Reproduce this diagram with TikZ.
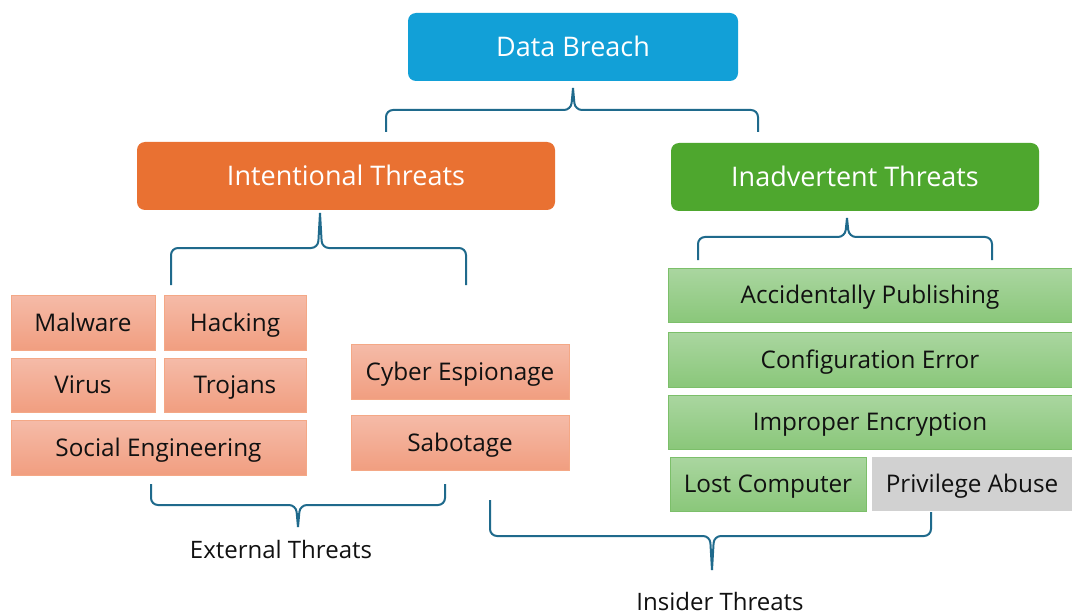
\documentclass[tikz,border=0pt]{standalone}
\usepackage{fontspec}
\setmainfont{Open Sans}
\definecolor{dbblue}{HTML}{12A0D7}
\definecolor{intor}{HTML}{E97132}
\definecolor{inagr}{HTML}{4EA72E}
\definecolor{saltop}{HTML}{F5BBA8}
\definecolor{salbot}{HTML}{F19E80}
\definecolor{salbd}{HTML}{F4A886}
\definecolor{grtop}{HTML}{AAD6A0}
\definecolor{grbot}{HTML}{8AC77A}
\definecolor{grbd}{HTML}{7CBF6A}
\definecolor{graybox}{HTML}{D1D1D1}
\definecolor{brcol}{HTML}{1F6A8C}
\definecolor{txt}{HTML}{111111}
\tikzset{
  head/.style={rounded corners=8pt, text=white, font=\fontsize{27}{30}\selectfont, inner sep=0pt, text height=20pt, text depth=1pt},
  bx/.style={text=txt, font=\fontsize{24.3}{27}\selectfont, inner sep=0pt, text height=20pt, text depth=2.6pt},
  salbox/.style={bx, draw=salbd, line width=1pt, top color=saltop, bottom color=salbot},
  grbox/.style={bx, draw=grbd, line width=1pt, top color=grtop, bottom color=grbot},
  gybox/.style={bx, fill=graybox},
  brc/.style={draw=brcol, line width=2pt, rounded corners=7pt},
  lbl/.style={text=txt, font=\fontsize{24}{27}\selectfont, inner sep=0pt, text height=20pt, text depth=2.6pt}
}
\begin{document}
\begin{tikzpicture}[x=1pt,y=-1pt]
\useasboundingbox[fill=white] (0,0) rectangle (1072,615);
% headers
\node[head, fill=dbblue, minimum width=330pt, minimum height=68pt] (db) at (573,47) {Data Breach};
\node[head, fill=intor, minimum width=418pt, minimum height=68pt] (it) at (346,176) {Intentional Threats};
\node[head, fill=inagr, minimum width=368pt, minimum height=68pt] (ia) at (855,177) {Inadvertent Threats};
% salmon boxes
\node[salbox, minimum width=144pt, minimum height=55pt] (mal) at (83,322.5) {Malware};
\node[salbox, minimum width=142pt, minimum height=55pt] (hack) at (235,322.5) {Hacking};
\node[salbox, minimum width=144pt, minimum height=54pt] (vir) at (83,385) {Virus};
\node[salbox, minimum width=142pt, minimum height=54pt] (troj) at (235,385) {Trojans};
\node[salbox, minimum width=295pt, minimum height=55pt] (soc) at (158.5,447.5) {Social Engineering};
\node[salbox, minimum width=218pt, minimum height=55pt] (cyb) at (460,371.5) {Cyber Espionage};
\node[salbox, minimum width=218pt, minimum height=55pt] (sab) at (460,442.5) {Sabotage};
% green boxes
\node[grbox, minimum width=404pt, minimum height=54pt] (acc) at (870,295) {Accidentally Publishing};
\node[grbox, minimum width=404pt, minimum height=55pt] (conf) at (870,359.5) {Configuration Error};
\node[grbox, minimum width=404pt, minimum height=54pt] (impr) at (870,422) {Improper Encryption};
\node[grbox, minimum width=196pt, minimum height=54pt] (lost) at (768,484) {Lost Computer};
\node[gybox, minimum width=200pt, minimum height=54pt] (priv) at (972,484) {Privilege Abuse};
% labels
\node[lbl] (ext) at (281,549.5) {External Threats};
\node[lbl] (ins) at (720,602) {Insider Threats};
% brace coordinates
\coordinate (tbT) at (573,88);
\coordinate (tbL) at (386,132);
\coordinate (tbR) at (758,132);
\coordinate (ibT) at (320,213);
\coordinate (ibL) at (171,285);
\coordinate (ibR) at (466,285);
\coordinate (abT) at (847,218);
\coordinate (abL) at (698,260);
\coordinate (abR) at (992,260);
\coordinate (ebT) at (298,527);
\coordinate (ebL) at (151,484);
\coordinate (ebR) at (445,484);
\coordinate (nbT) at (712,570);
\coordinate (nbL) at (490,500);
\coordinate (nbR) at (931,512);
% top brace
\draw[brc] (tbL) -- (tbL |- 0,110) -- (571,110) -- (tbT);
\draw[brc] (tbT) -- (575,110) -- (tbR |- 0,110) -- (tbR);
% intentional brace
\draw[brc] (ibL) -- (ibL |- 0,248) -- (318,248) -- (ibT);
\draw[brc] (ibT) -- (322,248) -- (ibR |- 0,248) -- (ibR);
% inadvertent brace
\draw[brc] (abL) -- (abL |- 0,237) -- (845,237) -- (abT);
\draw[brc] (abT) -- (849,237) -- (abR |- 0,237) -- (abR);
% external brace
\draw[brc] (ebL) -- (ebL |- 0,505) -- (296,505) -- (ebT);
\draw[brc] (ebT) -- (300,505) -- (ebR |- 0,505) -- (ebR);
% insider brace
\draw[brc] (nbL) -- (nbL |- 0,536) -- (710,536) -- (nbT);
\draw[brc] (nbT) -- (714,536) -- (nbR |- 0,536) -- (nbR);
\end{tikzpicture}
\end{document}
